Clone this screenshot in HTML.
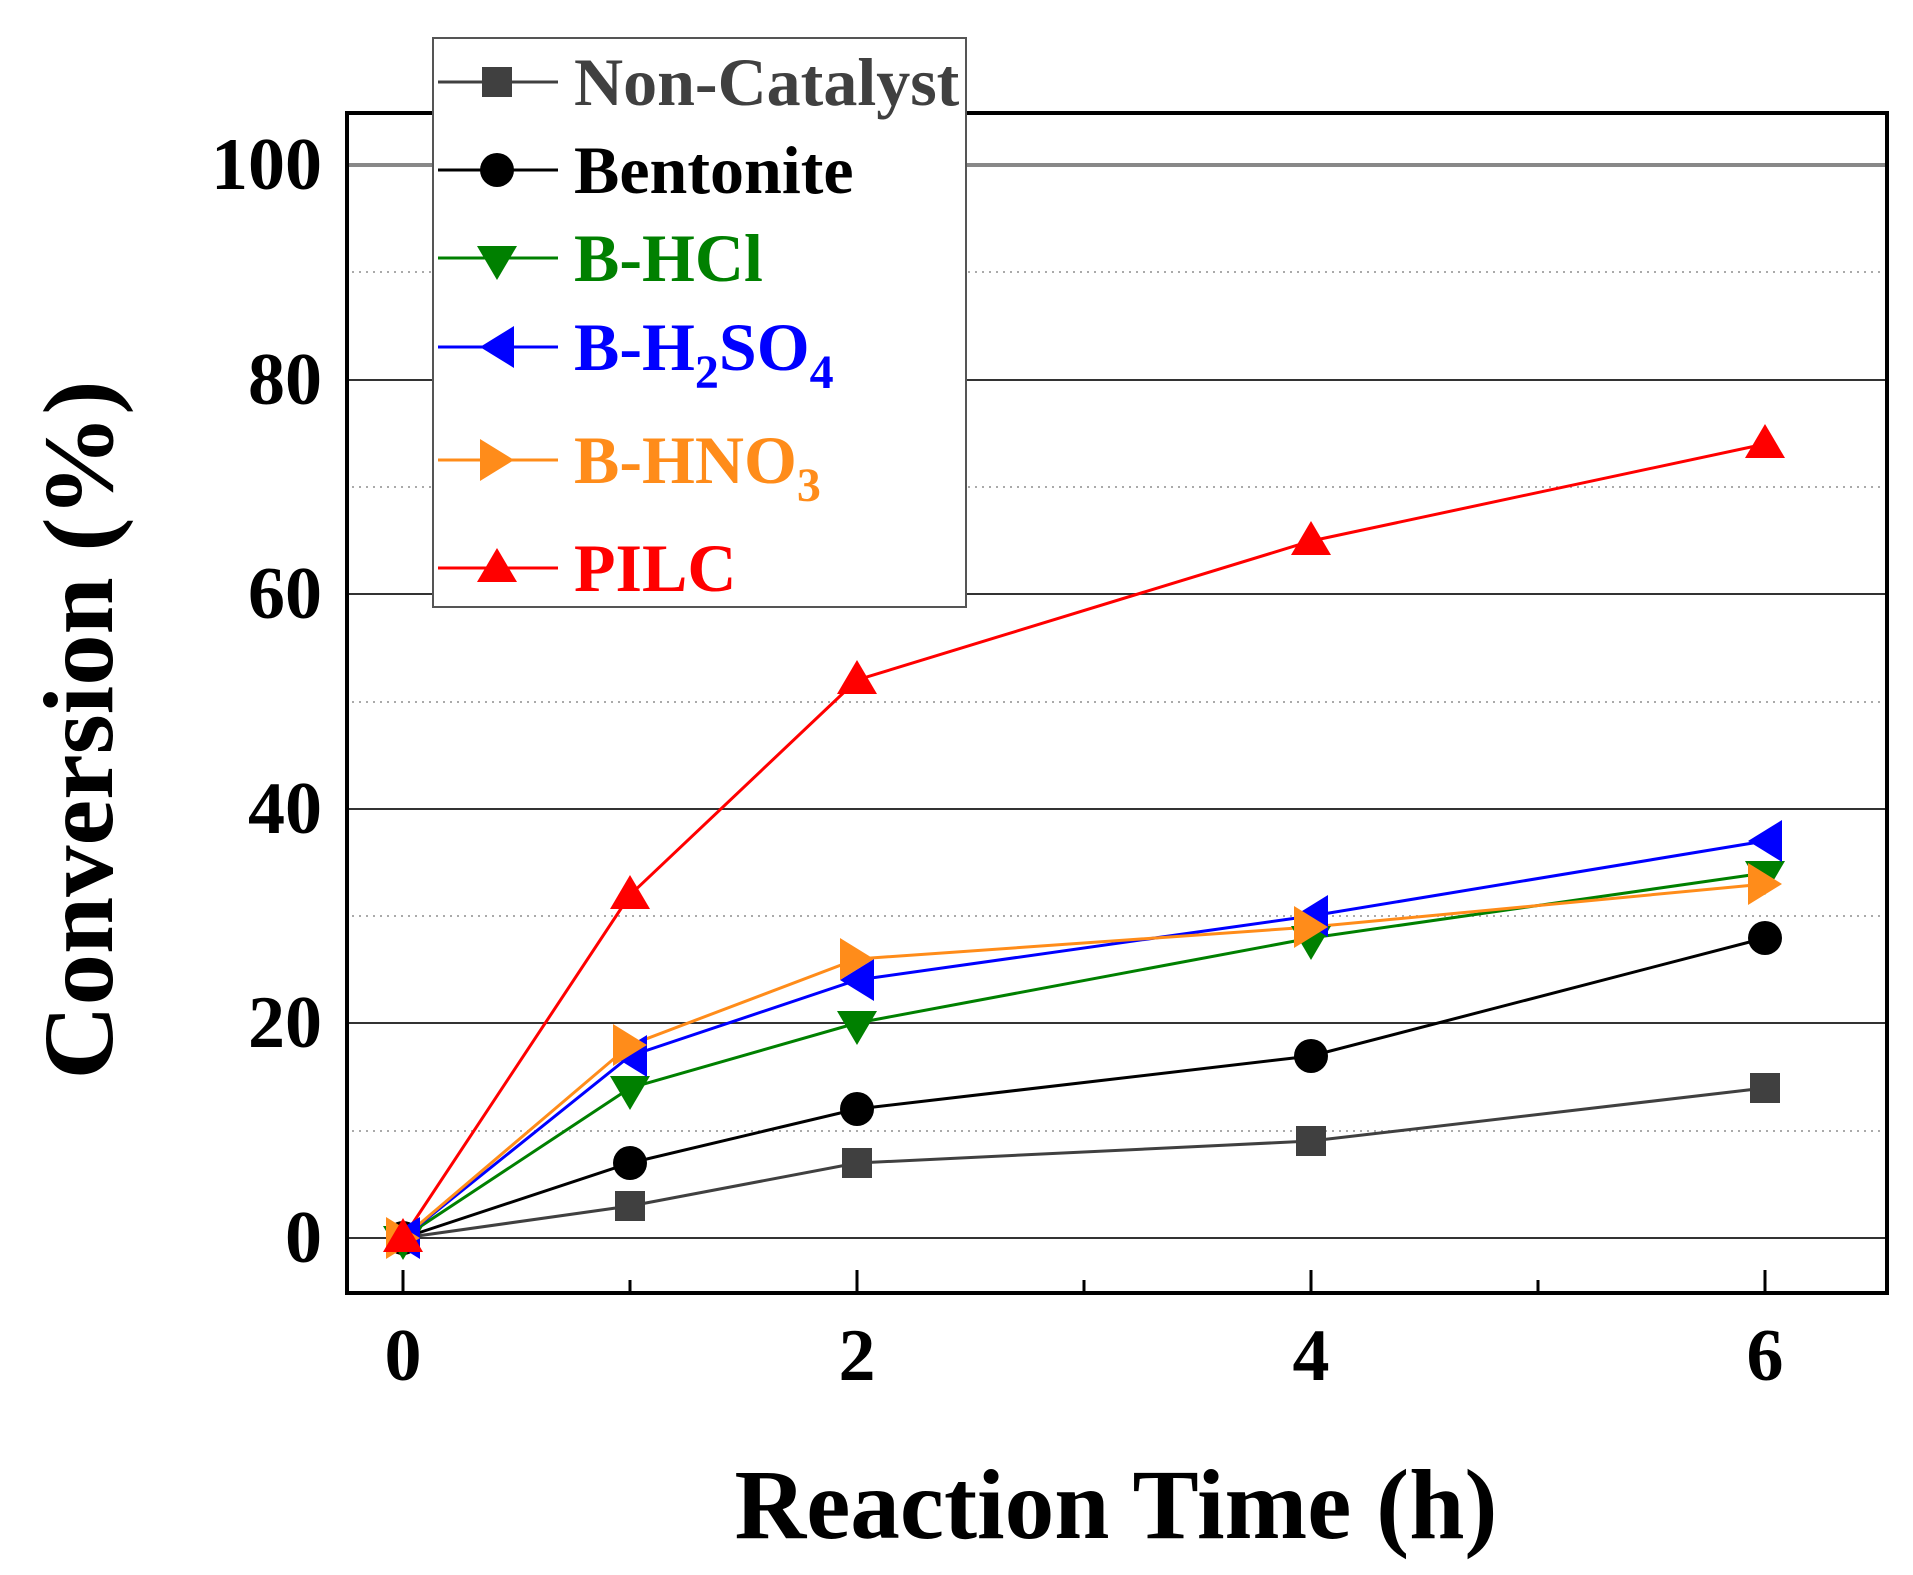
<!DOCTYPE html>
<html><head><meta charset="utf-8"><style>body{margin:0;background:#fff}svg{display:block}</style></head><body>
<svg width="1913" height="1575" viewBox="0 0 1913 1575" xmlns="http://www.w3.org/2000/svg" font-family="Liberation Serif, serif" font-weight="bold">
<rect width="1913" height="1575" fill="#fff"/>
<g stroke="#aaa" stroke-width="2" stroke-dasharray="2,5">
<line x1="345" x2="1888" y1="1131" y2="1131"/><line x1="345" x2="1888" y1="916" y2="916"/><line x1="345" x2="1888" y1="702" y2="702"/><line x1="345" x2="1888" y1="487" y2="487"/><line x1="345" x2="1888" y1="272" y2="272"/>
</g>
<g stroke="#333" stroke-width="2">
<line x1="345" x2="1888" y1="1238" y2="1238"/><line x1="345" x2="1888" y1="1023" y2="1023"/><line x1="345" x2="1888" y1="809" y2="809"/><line x1="345" x2="1888" y1="594" y2="594"/><line x1="345" x2="1888" y1="380" y2="380"/>
</g>
<line x1="345" x2="1888" y1="165" y2="165" stroke="#888" stroke-width="4"/>
<rect x="347" y="113" width="1540" height="1180" fill="none" stroke="#000" stroke-width="4"/>
<g stroke="#000" stroke-width="3">
<line x1="403" x2="403" y1="1293" y2="1270"/><line x1="857" x2="857" y1="1293" y2="1270"/><line x1="1311" x2="1311" y1="1293" y2="1270"/><line x1="1765" x2="1765" y1="1293" y2="1270"/>
<line x1="630" x2="630" y1="1293" y2="1280"/><line x1="1084" x2="1084" y1="1293" y2="1280"/><line x1="1538" x2="1538" y1="1293" y2="1280"/>
</g>
<g font-size="74" text-anchor="end">
<text x="322" y="1262">0</text><text x="322" y="1047">20</text><text x="322" y="833">40</text><text x="322" y="618">60</text><text x="322" y="404">80</text><text x="322" y="189">100</text>
</g>
<g font-size="74" text-anchor="middle">
<text x="403" y="1380">0</text><text x="857" y="1380">2</text><text x="1311" y="1380">4</text><text x="1765" y="1380">6</text>
</g>
<text x="1116" y="1538" font-size="100" text-anchor="middle" textLength="763" lengthAdjust="spacingAndGlyphs">Reaction Time (h)</text>
<text transform="translate(112,730) rotate(-90)" font-size="100" text-anchor="middle" textLength="699" lengthAdjust="spacingAndGlyphs">Conversion (%)</text>
<!-- series -->
<g fill="none" stroke-width="3">
<polyline stroke="#404040" points="403,1238 630,1206 857,1163 1311,1141 1765,1088"/>
<polyline stroke="#000" points="403,1238 630,1163 857,1109 1311,1056 1765,938"/>
<polyline stroke="#008000" points="403,1238 630,1088 857,1023 1311,938 1765,873"/>
<polyline stroke="#0000ff" points="403,1238 630,1056 857,980 1311,916 1765,841"/>
<polyline stroke="#ff8c1a" points="403,1238 630,1045 857,959 1311,927 1765,884"/>
<polyline stroke="#ff0000" points="403,1238 630,895 857,680 1311,541 1765,444"/>
</g>
<g fill="#404040">
<rect x="388" y="1223" width="30" height="30"/><rect x="615" y="1191" width="30" height="30"/><rect x="842" y="1148" width="30" height="30"/><rect x="1296" y="1126" width="30" height="30"/><rect x="1750" y="1073" width="30" height="30"/>
</g>
<g fill="#000">
<circle cx="403" cy="1238" r="17"/><circle cx="630" cy="1163" r="17"/><circle cx="857" cy="1109" r="17"/><circle cx="1311" cy="1056" r="17"/><circle cx="1765" cy="938" r="17"/>
</g>
<g fill="#008000">
<path d="M383,1226h40l-20,34z"/><path d="M610,1076h40l-20,34z"/><path d="M837,1011h40l-20,34z"/><path d="M1291,926h40l-20,34z"/><path d="M1745,861h40l-20,34z"/>
</g>
<g fill="#0000ff">
<path d="M386,1238l34,-21v42z"/><path d="M613,1056l34,-21v42z"/><path d="M840,980l34,-21v42z"/><path d="M1294,916l34,-21v42z"/><path d="M1748,841l34,-21v42z"/>
</g>
<g fill="#ff8c1a">
<path d="M420,1238l-34,-21v42z"/><path d="M647,1045l-34,-21v42z"/><path d="M874,959l-34,-21v42z"/><path d="M1328,927l-34,-21v42z"/><path d="M1782,884l-34,-21v42z"/>
</g>
<g fill="#ff0000">
<path d="M383,1252h40l-20,-34z"/><path d="M610,909h40l-20,-34z"/><path d="M837,694h40l-20,-34z"/><path d="M1291,555h40l-20,-34z"/><path d="M1745,458h40l-20,-34z"/>
</g>
<!-- legend -->
<rect x="433" y="38" width="533" height="569" fill="#fff" stroke="#555" stroke-width="2"/>
<g stroke-width="3">
<line x1="438" x2="558" y1="82" y2="82" stroke="#404040"/>
<line x1="438" x2="558" y1="170" y2="170" stroke="#000"/>
<line x1="438" x2="558" y1="258" y2="258" stroke="#008000"/>
<line x1="438" x2="558" y1="347" y2="347" stroke="#0000ff"/>
<line x1="438" x2="558" y1="460" y2="460" stroke="#ff8c1a"/>
<line x1="438" x2="558" y1="568" y2="568" stroke="#ff0000"/>
</g>
<rect x="482" y="67" width="30" height="30" fill="#404040"/>
<circle cx="497" cy="170" r="17" fill="#000"/>
<path d="M477,246h40l-20,34z" fill="#008000"/>
<path d="M480,347l34,-21v42z" fill="#0000ff"/>
<path d="M514,460l-34,-21v42z" fill="#ff8c1a"/>
<path d="M477,582h40l-20,-34z" fill="#ff0000"/>
<g font-size="68">
<text x="574" y="105" fill="#404040">Non-Catalyst</text>
<text x="574" y="193" fill="#000">Bentonite</text>
<text x="574" y="281" fill="#008000">B-HCl</text>
<text x="574" y="370" fill="#0000ff">B-H<tspan font-size="48" dy="18">2</tspan><tspan dy="-18">SO</tspan><tspan font-size="48" dy="18">4</tspan></text>
<text x="574" y="483" fill="#ff8c1a">B-HNO<tspan font-size="48" dy="18">3</tspan></text>
<text x="574" y="591" fill="#ff0000">PILC</text>
</g>
</svg>
</body></html>
